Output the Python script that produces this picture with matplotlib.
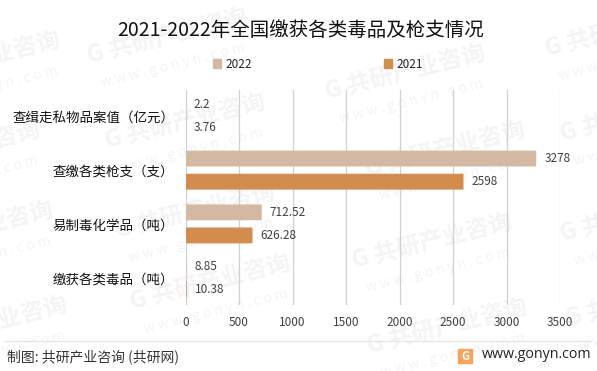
import matplotlib
matplotlib.use('Agg')
import matplotlib.pyplot as plt
from matplotlib.patches import Rectangle
from matplotlib.lines import Line2D

plt.rcParams['font.family'] = ['Noto Sans CJK SC', 'DejaVu Sans']

# data, bottom to top on the chart
categories = ['缴获各类毒品（吨）', '易制毒化学品（吨）', '查缴各类枪支（支）', '查缉走私物品案值（亿元）']
values_2022 = [8.85, 712.52, 3278, 2.2]
values_2021 = [10.38, 626.28, 2598, 3.76]
labels_2022 = ['8.85', '712.52', '3278', '2.2']
labels_2021 = ['10.38', '626.28', '2598', '3.76']
xticks = [0, 500, 1000, 1500, 2000, 2500, 3000, 3500]

W, H = 597, 371
color_2022 = '#D4B9A2'
color_2021 = '#D28C4E'

fig = plt.figure(figsize=(W / 100, H / 100), dpi=100)

# faint watermarks behind everything
marks = [(167, 37), (185, 122), (195, 212), (210, 283), (405, 73), (445, 150), (432, 242), (447, 327),
         (-20, 60), (-40, 150), (-27, 230), (-13, 325), (625, 30), (640, 115), (640, 215), (645, 300)]
for mx, my in marks:
    fig.text(mx / W, 1 - my / H, 'G 共研产业咨询', fontsize=17, fontweight='bold', color='#F4F4F4',
             rotation=14, ha='center', va='center', zorder=-5)
    fig.text((mx + 6) / W, 1 - (my + 28) / H, 'w w w . g o n y n . c o m', fontsize=10, color='#F4F4F4',
             rotation=14, ha='center', va='center', zorder=-5)

ax = fig.add_axes([185.5 / W, 1 - 304.5 / H, 374.5 / W, 215 / H], zorder=2)
ax.patch.set_alpha(0)

y = range(len(categories))
offset = 0.215
height = 0.295
ax.barh([i + offset for i in y], values_2022, height, color=color_2022, zorder=3, snap=False)
ax.barh([i - offset for i in y], values_2021, height, color=color_2021, zorder=3, snap=False)

for i in y:
    ax.text(values_2022[i] + 75, i + offset, labels_2022[i], fontsize=8.5, color='#404040', va='center', ha='left')
    ax.text(values_2021[i] + 75, i - offset, labels_2021[i], fontsize=8.5, color='#404040', va='center', ha='left')

ax.set_xlim(0, 3500)
ax.set_ylim(-0.5, 3.5)
ax.set_xticks(xticks)
ax.set_yticks(list(y))
ax.set_yticklabels(categories, fontsize=9.7, color='#111111')
ax.tick_params(axis='x', length=0, labelsize=8.5, labelcolor='#404040', pad=8)
ax.tick_params(axis='y', length=0, pad=8)
ax.grid(axis='x', color='#D0D0D0', linewidth=0.9, zorder=0)
ax.set_axisbelow(True)
for s in ax.spines.values():
    s.set_visible(False)

fig.text(301 / W, 1 - 31 / H, '2021-2022年全国缴获各类毒品及枪支情况', fontsize=14, color='#111111',
         ha='center', va='center')

# legend
handles = [Rectangle((0, 0), 1, 1, color=color_2022), Rectangle((0, 0), 1, 1, color=color_2021)]
fig.legend(handles, ['2022', '2021'], loc='center', bbox_to_anchor=(318 / W, 1 - 64 / H), ncol=2, frameon=False,
           fontsize=8.5, handlelength=0.7, handleheight=0.7, handletextpad=0.4, columnspacing=11.1,
           labelcolor='#222222')

# footer
fig.add_artist(Line2D([5 / W, 591 / W], [1 - 340.5 / H] * 2, color='#E6E6E6', linewidth=0.9))
fig.text(7 / W, 1 - 357 / H, '制图: 共研产业咨询 (共研网)', fontsize=10, color='#333333',
         va='center', ha='left', fontweight='medium')
fig.text(591 / W, 1 - 355 / H, 'www.gonyn.com', fontsize=10.3, color='#222222', va='center', ha='right',
         family=['Open Sans', 'DejaVu Sans'])
fig.add_artist(Rectangle((458 / W, 1 - 363 / H), 14 / W, 14 / H, color='#F7A35C', transform=fig.transFigure))
fig.text(465 / W, 1 - 356 / H, 'G', fontsize=8, fontweight='bold', color='white', ha='center', va='center')

fig.savefig('out.png', dpi=100)
